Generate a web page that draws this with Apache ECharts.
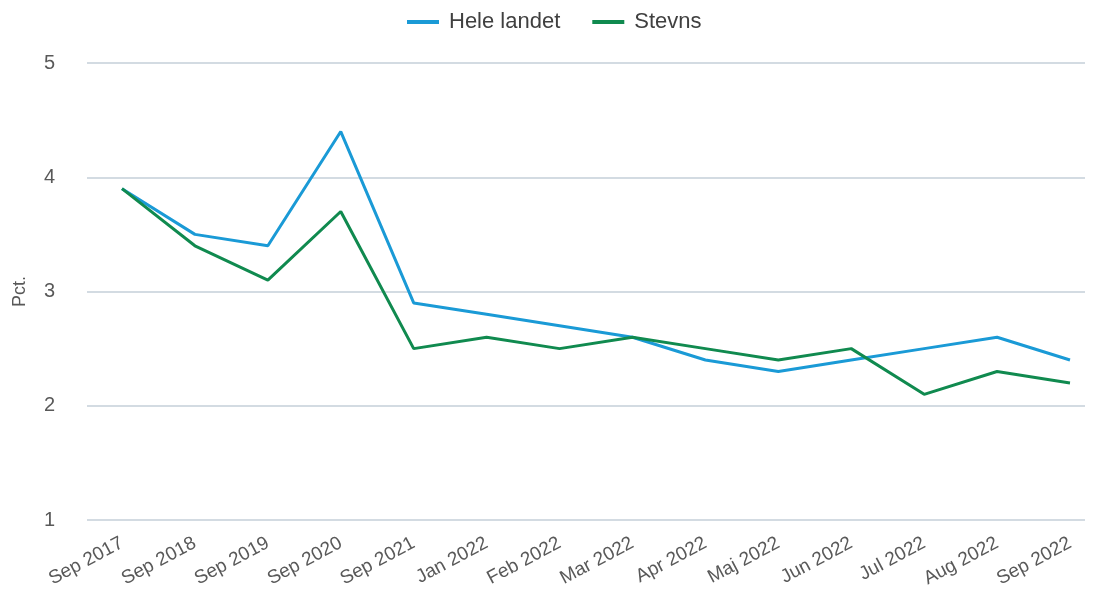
<!DOCTYPE html>
<html>
<head>
<meta charset="utf-8">
<script src="https://cdn.jsdelivr.net/npm/echarts@6/dist/echarts.min.js"></script>
<style>
html,body{margin:0;padding:0;background:#fff;}
#chart{width:1096px;height:594px;}
</style>
</head>
<body>
<div id="chart"></div>
<script>
const categories = ["Sep 2017","Sep 2018","Sep 2019","Sep 2020","Sep 2021","Jan 2022","Feb 2022","Mar 2022","Apr 2022","Maj 2022","Jun 2022","Jul 2022","Aug 2022","Sep 2022"];
const heleLandet = [3.9,3.5,3.4,4.4,2.9,2.8,2.7,2.6,2.4,2.3,2.4,2.5,2.6,2.4];
const stevns = [3.9,3.4,3.1,3.7,2.5,2.6,2.5,2.6,2.5,2.4,2.5,2.1,2.3,2.2];
const seriesNames = ["Hele landet","Stevns"];
const yAxisName = "Pct.";

const chart = echarts.init(document.getElementById('chart'));
const textColor = '#595959';
chart.setOption({
  animation: false,
  textStyle: {fontFamily: 'Arial, "Liberation Sans", sans-serif'},
  legend: {
    top: 6,
    left: 402,
    itemWidth: 32,
    itemHeight: 4,
    itemGap: 32,
    icon: 'rect',
    textStyle: {fontSize: 22, color: '#404040', padding: [0, 0, 0, 5]},
    data: seriesNames
  },
  grid: [
    {left: 122, right: 26, top: 63, bottom: 74},
    {left: 87, right: 11, top: 63, bottom: 74}
  ],
  xAxis: [
    {
      type: 'category', gridIndex: 0, data: categories, boundaryGap: false,
      axisLine: {show: false}, axisTick: {show: false},
      axisLabel: {rotate: 28, margin: 22, fontSize: 19, color: textColor}
    },
    {
      type: 'value', gridIndex: 1, show: false, min: 0, max: 1
    }
  ],
  yAxis: [
    {
      type: 'value', gridIndex: 0, min: 1, max: 5, interval: 1,
      show: false, splitLine: {show: false}
    },
    {
      type: 'value', gridIndex: 1, min: 1, max: 5, interval: 1,
      name: yAxisName, nameLocation: 'middle', nameGap: 58, nameRotate: 90,
      nameTextStyle: {fontSize: 18, color: textColor},
      axisLine: {show: false}, axisTick: {show: false},
      axisLabel: {fontSize: 20, color: textColor, margin: 32},
      splitLine: {lineStyle: {color: '#c5cfd8', width: 1.5}}
    }
  ],
  series: [
    {
      name: seriesNames[0], type: 'line', data: heleLandet,
      xAxisIndex: 0, yAxisIndex: 0, symbol: 'none',
      lineStyle: {width: 3, color: '#1a9ad6'}, itemStyle: {color: '#1a9ad6'}, z: 3
    },
    {
      name: seriesNames[1], type: 'line', data: stevns,
      xAxisIndex: 0, yAxisIndex: 0, symbol: 'none',
      lineStyle: {width: 3, color: '#108a4f'}, itemStyle: {color: '#108a4f'}, z: 4
    }
  ]
});
</script>
</body>
</html>
